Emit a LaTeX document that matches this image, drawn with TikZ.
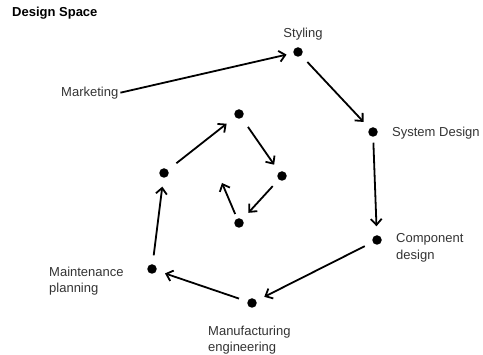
\documentclass[tikz,border=0pt]{standalone}
\usepackage{fontspec}
\setmainfont{Liberation Sans}
\usetikzlibrary{arrows.meta}
\begin{document}
\begin{tikzpicture}[x=1pt,y=-1pt,
  dot/.style={circle,fill=black,minimum size=9.5pt,inner sep=0pt,outer sep=0pt},
  lbl/.style={inner sep=0pt,text=black!80,font=\fontsize{13}{16.5}\selectfont,align=left},
  arr/.style={line width=1.8pt,-{Straight Barb[length=6pt,width=11pt]},shorten >=9pt,shorten <=9pt}]
\useasboundingbox (0,0) rectangle (483,355);
\node[lbl,anchor=base west,font=\bfseries\fontsize{13}{16}\selectfont,text=black] (title) at (12,17) {Design Space};
% dots
\node[dot] (sty) at (298,52) {};
\node[dot] (sys) at (373,132) {};
\node[dot] (comp) at (377,240) {};
\node[dot] (manu) at (252,303) {};
\node[dot] (maint) at (152,269) {};
\node[dot] (d1) at (164,173) {};
\node[dot] (d2) at (239,114) {};
\node[dot] (d3) at (282,176) {};
\node[dot] (d4) at (239,223) {};
\coordinate (end) at (222,183);
% labels
\node[lbl,anchor=base] (lsty) at (303,37.5) {Styling};
\node[lbl,anchor=base west] (mkt) at (61,96.5) {Marketing};
\node[lbl,anchor=base west] (lsys) at (392,136.5) {System Design};
\node[lbl,anchor=base west] (lcomp) at (396,259.5) {Component\\design};
\node[lbl,anchor=base west] (lmaint) at (49,293) {Maintenance\\planning};
\node[lbl,anchor=base west] (lmanu) at (208,352) {Manufacturing\\engineering};
% arrows
\draw[arr,shorten <=2pt,shorten >=7pt] (mkt.east) -- (sty);
\draw[arr] (sty) -- (sys);
\draw[arr,shorten <=6pt] (sys) -- (comp);
\draw[arr] (comp) -- (manu);
\draw[arr] (manu) -- (maint);
\draw[arr] (maint) -- (d1);
\draw[arr,shorten <=11pt,shorten >=11pt] (d1) -- (d2);
\draw[arr,shorten <=11pt] (d2) -- (d3);
\draw[arr] (d3) -- (d4);
\draw[arr,shorten <=5pt,shorten >=0pt] (d4) -- (end);
\end{tikzpicture}
\end{document}
